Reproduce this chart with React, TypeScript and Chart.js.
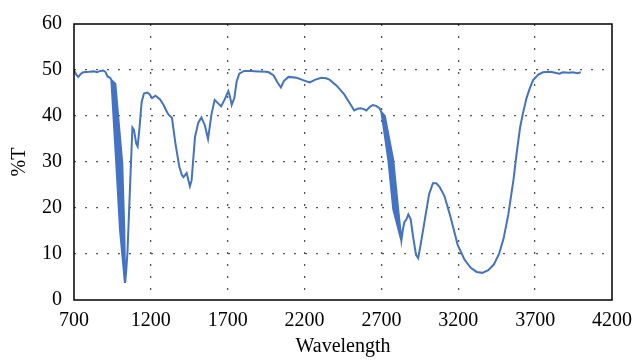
import React, { useEffect, useRef } from "react";
import { Chart, registerables } from "chart.js";

Chart.register(...registerables);

// Wavelength (x) and %T (y).
// The steep bands near 1000 and 2750 are drawn as several overlapping passes
// (as in the original noisy scan), which gives them their thick look.
const wavelength: number[] = [
  700, 715, 728, 745, 760, 800, 830, 850, 870, 890, 905, 918, 935,
  943, 975, 999, 1031,
  1031, 1006, 985, 950,
  956, 994, 1013, 1032,
  1020, 1004, 962,
  969, 1014, 1027, 1033,
  1040, 1048, 1065, 1080, 1090, 1105, 1114, 1125, 1140, 1155, 1175, 1190, 1208, 1230, 1260, 1283, 1300, 1315, 1337,
  1360, 1385, 1401, 1412, 1433, 1454, 1465, 1487, 1508, 1529, 1551, 1572, 1594, 1615, 1636, 1657, 1679, 1704, 1715,
  1726, 1743, 1758, 1775, 1807, 1850, 1900, 1950, 1967, 1999, 2020, 2046, 2065, 2095, 2149, 2190, 2234, 2270, 2309,
  2340, 2362, 2405, 2430, 2458, 2490, 2523, 2545, 2565, 2585, 2602, 2625, 2644, 2665, 2687,
  2700, 2745, 2777, 2828,
  2828.5, 2785, 2753, 2705.5,
  2711, 2761, 2793, 2829,
  2829.5, 2801, 2769, 2716.5,
  2722, 2777, 2809, 2830,
  2838, 2849, 2862, 2875, 2890, 2905, 2925, 2939, 2955, 2985, 3010, 3035, 3057, 3080, 3110, 3150, 3196, 3240, 3281,
  3320, 3356, 3395, 3431, 3465, 3495, 3525, 3559, 3580, 3602, 3620, 3644, 3665, 3687, 3720, 3751, 3800, 3830, 3858,
  3880, 3920, 3944, 3975, 3997,
];

const transmittance: number[] = [
  49.9, 49.0, 48.5, 49.2, 49.5, 49.6, 49.7, 49.5, 49.8, 49.9, 49.6, 48.6, 48.3,
  47.8, 29.7, 15.4, 3.7,
  4.0, 15.4, 29.7, 47.6,
  47.4, 29.7, 15.4, 3.8,
  15.4, 29.7, 47.2,
  47.0, 29.7, 15.4, 3.8,
  6.5, 10.5, 25.0, 37.5, 37.0, 34.0, 33.4, 37.0, 43.0, 44.9, 45.1, 44.8, 43.9, 44.4, 43.6, 42.4, 41.2, 40.3, 39.6,
  34.0, 29.0, 27.2, 26.7, 27.6, 24.7, 26.0, 35.4, 38.5, 39.7, 38.0, 35.0, 40.3, 43.5, 42.8, 42.1, 43.5, 45.4, 44.2,
  42.4, 43.9, 47.5, 49.2, 49.8, 49.8, 49.7, 49.6, 49.5, 48.8, 47.5, 46.2, 47.6, 48.5, 48.3, 47.8, 47.3, 47.9, 48.3,
  48.2, 47.9, 46.7, 45.8, 44.7, 43.0, 41.2, 41.6, 41.7, 41.5, 41.2, 42.0, 42.4, 42.2, 41.7,
  40.8, 30.4, 19.7, 13.1,
  13.1, 19.7, 30.4, 40.6,
  40.4, 30.4, 19.7, 13.0,
  13.0, 19.7, 30.4, 40.2,
  40.0, 30.4, 19.7, 13.0,
  15.0, 16.9, 17.5, 18.6, 17.6, 14.0, 9.8, 9.1, 12.0, 18.0, 23.0, 25.4, 25.4, 24.5, 22.6, 18.0, 12.0, 8.8, 7.0,
  6.1, 5.9, 6.5, 7.7, 10.0, 13.4, 18.5, 26.1, 32.0, 37.5, 40.5, 43.9, 46.0, 47.8, 49.0, 49.5, 49.6, 49.4, 49.2,
  49.5, 49.4, 49.5, 49.3, 49.5,
];

const xTicks: number[] = [700, 1200, 1700, 2200, 2700, 3200, 3700, 4200];
const yTicks: number[] = [0, 10, 20, 30, 40, 50, 60];

const FONT = "'Liberation Serif', 'Times New Roman', serif";

const frame = {
  id: "frame",
  afterDatasetsDraw(chart: any) {
    const { ctx, chartArea } = chart;
    ctx.save();
    ctx.strokeStyle = "#000";
    ctx.lineWidth = 1.5;
    ctx.setLineDash([]);
    ctx.strokeRect(chartArea.left, chartArea.top, chartArea.right - chartArea.left, chartArea.bottom - chartArea.top);
    ctx.restore();
  },
};

export default function App() {
  const ref = useRef<HTMLCanvasElement | null>(null);

  useEffect(() => {
    if (!ref.current) return;
    const points = wavelength.map((x, i) => ({ x, y: transmittance[i] }));
    const chart = new Chart(ref.current, {
      type: "line",
      data: {
        datasets: [
          {
            data: points,
            borderColor: "#4472C4",
            borderWidth: 2,
            pointRadius: 0,
            tension: 0,
            fill: false,
          },
        ],
      },
      options: {
        animation: false,
        responsive: false,
        maintainAspectRatio: false,
        layout: { padding: { top: 18, right: 21, left: 0, bottom: 0 } },
        plugins: { legend: { display: false }, tooltip: { enabled: false } },
        scales: {
          x: {
            type: "linear",
            min: 700,
            max: 4200,
            afterBuildTicks: (s: any) => {
              s.ticks = xTicks.map((v) => ({ value: v }));
            },
            afterFit: (s: any) => {
              s.height = 63;
            },
            border: { display: false, dash: [2, 10] },
            grid: {
              drawTicks: false,
              color: (c: any) => (c.tick && (c.tick.value === 700 || c.tick.value === 4200) ? "rgba(0,0,0,0)" : "#555"),
              lineWidth: 1.3,
            },
            ticks: {
              padding: 9,
              color: "#000",
              maxRotation: 0,
              autoSkip: false,
              font: { family: FONT, size: 20 },
              callback: (v: any) => String(v),
            },
            title: {
              display: true,
              text: "Wavelength",
              color: "#000",
              font: { family: FONT, size: 20 },
              padding: { top: 0, bottom: 4 },
            },
          },
          y: {
            min: 0,
            max: 60,
            afterBuildTicks: (s: any) => {
              s.ticks = yTicks.map((v) => ({ value: v }));
            },
            afterFit: (s: any) => {
              s.width = 74;
            },
            border: { display: false, dash: [2, 9] },
            grid: {
              drawTicks: false,
              color: (c: any) => (c.tick && (c.tick.value === 0 || c.tick.value === 60) ? "rgba(0,0,0,0)" : "#555"),
              lineWidth: 1.3,
            },
            ticks: {
              padding: 12,
              color: "#000",
              font: { family: FONT, size: 20 },
            },
            title: {
              display: true,
              text: "%T",
              color: "#000",
              font: { family: FONT, size: 20 },
              padding: { top: 8, bottom: 0 },
            },
          },
        },
      },
      plugins: [frame],
    });
    return () => chart.destroy();
  }, []);

  return (
    <div style={{ position: "fixed", left: 0, top: 0, width: 641, height: 363, background: "#fff" }}>
      <canvas ref={ref} width={641} height={363} style={{ width: 641, height: 363 }} />
    </div>
  );
}
